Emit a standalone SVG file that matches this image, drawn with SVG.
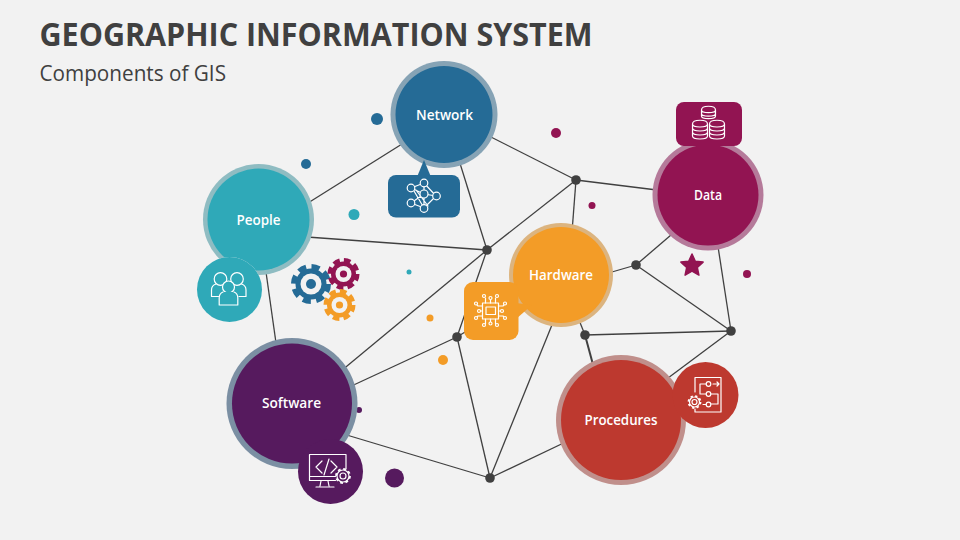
<svg xmlns="http://www.w3.org/2000/svg" width="960" height="540" viewBox="0 0 960 540">
<style>
text{font-family:"Open Sans","Liberation Sans",sans-serif}
.t{font-size:33px;font-weight:700;fill:#404040}
.s{font-size:21.5px;fill:#404040}
.l{font-size:15px;font-weight:600;fill:#fff;text-anchor:middle}
.c line{stroke:#404040;stroke-width:1.3}
.c circle{fill:#404040}
.i{fill:none;stroke:#fff;stroke-width:1.2;stroke-linejoin:round;stroke-linecap:round}
.teal{fill:#2fa9b8}.blue{fill:#256b96}.mag{fill:#921452}.org{fill:#f39c27}.pur{fill:#561a5e}.red{fill:#bd392f}
</style>
<rect width="960" height="540" fill="#f2f2f2"/>
<text class="t" x="39.500" y="45.500" textLength="553" lengthAdjust="spacingAndGlyphs">GEOGRAPHIC INFORMATION SYSTEM</text>
<text class="s" x="39.500" y="81" textLength="186.500" lengthAdjust="spacingAndGlyphs">Components of GIS</text>
<g id="connectors" class="c">
<line x1="300" y1="208" x2="410" y2="139"/>
<line x1="300" y1="236.500" x2="487" y2="250"/>
<line x1="265" y1="265" x2="277" y2="350"/>
<line x1="458" y1="157" x2="487" y2="250"/>
<line x1="485" y1="134" x2="576" y2="180"/>
<line x1="576" y1="180" x2="487" y2="250"/>
<line x1="576" y1="180" x2="665" y2="191"/>
<line x1="576" y1="180" x2="572" y2="232"/>
<line x1="487" y1="250" x2="335" y2="376"/>
<line x1="487" y1="250" x2="457" y2="337"/>
<line x1="457" y1="337" x2="345" y2="389"/>
<line x1="457" y1="337" x2="520" y2="298"/>
<line x1="457" y1="337" x2="490" y2="478"/>
<line x1="490" y1="478" x2="340" y2="433"/>
<line x1="490" y1="478" x2="556" y2="315"/>
<line x1="490" y1="478" x2="572" y2="439"/>
<line x1="585" y1="335" x2="577" y2="315"/>
<line x1="585" y1="335" x2="595" y2="372" style="stroke-width:2"/>
<line x1="585" y1="335" x2="731" y2="331"/>
<line x1="636" y1="265" x2="605" y2="274"/>
<line x1="636" y1="265" x2="678" y2="229"/>
<line x1="636" y1="265" x2="731" y2="331"/>
<line x1="717" y1="240" x2="731" y2="331"/>
<line x1="731" y1="331" x2="660" y2="384"/>
<circle cx="487" cy="250" r="4.800"/>
<circle cx="576" cy="180" r="4.800"/>
<circle cx="636" cy="265" r="4.800"/>
<circle cx="731" cy="331" r="4.800"/>
<circle cx="585" cy="335" r="4.800"/>
<circle cx="457" cy="337" r="4.800"/>
<circle cx="490" cy="478" r="4.800"/>
</g>
<g id="decor">
<circle class="blue" cx="377" cy="119" r="6"/>
<circle class="blue" cx="306" cy="164" r="5"/>
<circle class="teal" cx="354" cy="214.500" r="5.500"/>
<circle class="teal" cx="409" cy="272" r="2.500"/>
<circle class="org" cx="430" cy="318" r="3.500"/>
<circle class="org" cx="443" cy="360" r="5"/>
<circle class="pur" cx="359" cy="410" r="3"/>
<circle class="pur" cx="394.500" cy="478" r="9.500"/>
<circle class="mag" cx="556" cy="133" r="5"/>
<circle class="mag" cx="592" cy="205.500" r="3.500"/>
<circle class="mag" cx="747" cy="274" r="4"/>
<path class="mag" d="M692 254l3.300 7.200 7.800 .9-5.800 5.300 1.600 7.700-6.900-3.900-6.900 3.900 1.600-7.700-5.800-5.300 7.800-.9z" stroke="#921452" stroke-width="1.500" stroke-linejoin="round"/>
</g>
<g id="gears">
<circle class="blue" cx="311" cy="284" r="15.500"/>
<circle cx="311" cy="284" r="17" fill="none" stroke="#256b96" stroke-width="6" stroke-dasharray="8 5.350"/>
<circle cx="311" cy="284" r="10.500" fill="#f2f2f2"/>
<circle class="blue" cx="311" cy="284" r="5"/>
<circle class="mag" cx="343.500" cy="274" r="12.500"/>
<circle cx="343.500" cy="274" r="13.500" fill="none" stroke="#921452" stroke-width="5" stroke-dasharray="6.500 4.100"/>
<circle cx="343.500" cy="274" r="8" fill="#f2f2f2"/>
<circle class="mag" cx="343.500" cy="274" r="3.600"/>
<circle class="org" cx="339.500" cy="305" r="12.500"/>
<circle cx="339.500" cy="305" r="13.500" fill="none" stroke="#f39c27" stroke-width="5" stroke-dasharray="6.500 4.100"/>
<circle cx="339.500" cy="305" r="8" fill="#f2f2f2"/>
<circle class="org" cx="339.500" cy="305" r="3.600"/>
</g>
<g id="node-people">
<circle cx="258.500" cy="219.500" r="55.500" fill="#8fbcc2"/>
<circle class="teal" cx="258.500" cy="219.500" r="51"/>
<text class="l" x="258.500" y="224.500" textLength="44" lengthAdjust="spacingAndGlyphs">People</text>
<circle cx="229.500" cy="289.500" r="32.500" fill="#f2f2f2"/>
<circle class="teal" cx="229.500" cy="289.500" r="32.500"/>
<g class="i">
<circle cx="220.500" cy="279" r="6.300"/><circle cx="237" cy="279" r="6.300"/>
<path d="M216 284c-3 1-4.500 3-4.500 6v6.500h7M241.500 284c3 1 4.500 3 4.500 6v6.500h-7"/>
<circle class="teal" cx="228.500" cy="287" r="6"/>
<path class="teal" d="M223 292c-2.500 1-3.800 3-3.800 6v7h18.600v-7c0-3-1.300-5-3.800-6"/>
</g>
</g>
<g id="node-network">
<circle cx="444" cy="114.500" r="53.500" fill="#86a3b5"/>
<circle class="blue" cx="444" cy="114.500" r="48.500"/>
<path class="blue" d="M424 160l-7 17h14z"/>
<rect class="blue" x="388" y="175" width="72" height="42.500" rx="8"/>
<text class="l" x="444.500" y="119.500" textLength="57" lengthAdjust="spacingAndGlyphs">Network</text>
<g class="i">
<path d="M411 188L424 183L436 196L424 208L411 203M411 188L424 194L436 196M411 203L424 194M414 191L424 208M424 183V194M424 194V208M416 190L428 206"/>
<g class="blue">
<circle cx="411" cy="188" r="3.800"/><circle cx="424" cy="183" r="3.800"/><circle cx="424" cy="194" r="4"/><circle cx="436.500" cy="196" r="3.800"/><circle cx="411" cy="203" r="3.800"/><circle cx="424" cy="208.500" r="3.800"/>
</g>
</g>
</g>
<g id="node-data">
<circle cx="708" cy="195" r="55.500" fill="#b57a9a"/>
<circle class="mag" cx="708" cy="195" r="50.500"/>
<rect class="mag" x="676" y="102" width="66" height="44" rx="8"/>
<text class="l" x="708" y="200" textLength="28" lengthAdjust="spacingAndGlyphs">Data</text>
<g class="i">
<path d="M701.500 110c0-5 14-5 14 0v6c0 3.500-14 3.500-14 0zM701.500 110c0 3.500 14 3.500 14 0M701.500 113.500c0 3.500 14 3.500 14 0"/>
<path d="M692.500 124c0-5 15-5 15 0v12c0 4-15 4-15 0zM692.500 124c0 4 15 4 15 0M692.500 128c0 4 15 4 15 0M692.500 132c0 4 15 4 15 0"/>
<path d="M709.500 124c0-5 15-5 15 0v12c0 4-15 4-15 0zM709.500 124c0 4 15 4 15 0M709.500 128c0 4 15 4 15 0M709.500 132c0 4 15 4 15 0"/>
</g>
</g>
<g id="node-hardware">
<circle cx="561" cy="275" r="52" fill="#dcb47f"/>
<circle class="org" cx="561" cy="275" r="48"/>
<path class="org" d="M516 303L532 305L516 319z"/>
<rect class="org" x="464" y="282" width="54.500" height="58" rx="9"/>
<text class="l" x="561" y="279.500" textLength="64" lengthAdjust="spacingAndGlyphs">Hardware</text>
<g class="i">
<rect x="486" y="307" width="9.500" height="7.500"/>
<rect x="482.500" y="303" width="16" height="16"/>
<path d="M485.500 303v-5M490.500 303v-3M495.500 303v-5M482.500 306h-4.500l-1-1M482.500 311h-2M482.500 316h-4.500l-1 1M498.500 306h4.500l1-1M498.500 311h2M498.500 316h4.500l1 1M485.500 319v5M490.500 319v3M495.500 319v5"/>
<g fill="#f39c27">
<circle cx="484" cy="296" r="1.500"/><circle cx="490.500" cy="298" r="1.500"/><circle cx="497" cy="296" r="1.500"/>
<circle cx="476" cy="303.500" r="1.500"/><circle cx="479" cy="311" r="1.500"/><circle cx="476" cy="318" r="1.500"/>
<circle cx="505" cy="303.500" r="1.500"/><circle cx="502" cy="311" r="1.500"/><circle cx="505" cy="318" r="1.500"/>
<circle cx="484" cy="325" r="1.500"/><circle cx="490.500" cy="323.500" r="1.500"/><circle cx="497" cy="325" r="1.500"/>
</g>
</g>
</g>
<g id="node-software">
<circle cx="292" cy="403.500" r="65.500" fill="#7b8fa3"/>
<circle class="pur" cx="292" cy="403.500" r="60"/>
<text class="l" x="291.500" y="407.500" textLength="59" lengthAdjust="spacingAndGlyphs">Software</text>
<circle class="pur" cx="330.500" cy="471.500" r="32.500"/>
<g class="i">
<path d="M346 469v-14.500h-36.500v26h26M309.500 476.500h26M321 481l-1 5M328 481l1 5M316 487h18"/>
<path d="M322 461l-6 6 6 6M331 461l6 6-6 6M329 459l-5 16"/>
<circle cx="343" cy="476" r="3"/>
<circle cx="343" cy="476" r="6"/>
<circle cx="343" cy="476" r="7" stroke-dasharray="2.800 2.700" stroke-width="1.800" stroke-linecap="butt"/>
</g>
</g>
<g id="node-procedures">
<circle cx="621" cy="420" r="65" fill="#c08f8b"/>
<circle class="red" cx="621" cy="420" r="60"/>
<text class="l" x="621" y="425" textLength="73" lengthAdjust="spacingAndGlyphs">Procedures</text>
<circle class="red" cx="705.500" cy="395" r="33"/>
<g class="i">
<path d="M695 392v-14.500h26v34.500h-26v-3"/>
<circle cx="708.500" cy="384" r="2.300"/><circle cx="708.500" cy="394" r="2.300"/><circle cx="708.500" cy="404.500" r="2.300"/>
<path d="M706 384h-6v10M700 394h6M711 394h7v10h-7M706 404.500h-3M713 384h6M717 382l2 2-2 2"/>
<circle cx="694.500" cy="402" r="2.500"/>
<circle cx="694.500" cy="402" r="5"/>
<circle cx="694.500" cy="402" r="6" stroke-dasharray="2.300 2.400" stroke-width="1.800" stroke-linecap="butt"/>
</g>
</g>
</svg>
